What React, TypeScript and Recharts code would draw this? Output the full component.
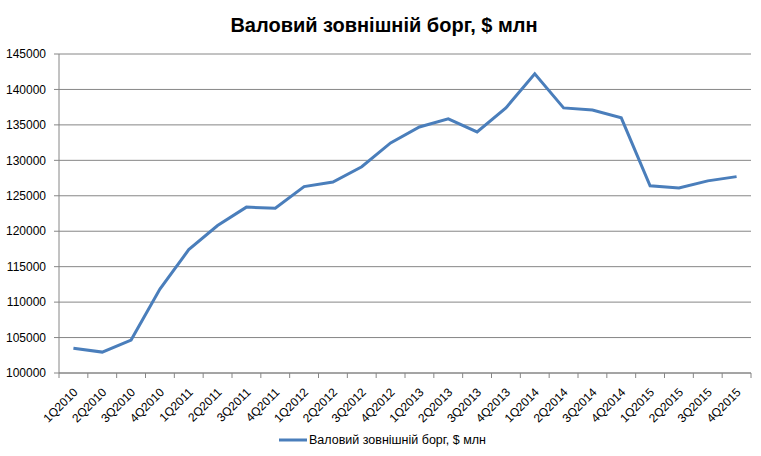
import React from 'react';
import { LineChart, Line, XAxis, YAxis, CartesianGrid, Legend } from 'recharts';

const quarters = [
  '1Q2010', '2Q2010', '3Q2010', '4Q2010',
  '1Q2011', '2Q2011', '3Q2011', '4Q2011',
  '1Q2012', '2Q2012', '3Q2012', '4Q2012',
  '1Q2013', '2Q2013', '3Q2013', '4Q2013',
  '1Q2014', '2Q2014', '3Q2014', '4Q2014',
  '1Q2015', '2Q2015', '3Q2015', '4Q2015',
];

const grossDebt = [
  103500, 102950, 104650, 111850,
  117400, 120800, 123400, 123250,
  126300, 126950, 129100, 132450,
  134700, 135850, 134000, 137400,
  142200, 137400, 137100, 136000,
  126400, 126100, 127100, 127700,
];

const yTicks = [100000, 105000, 110000, 115000, 120000, 125000, 130000, 135000, 140000, 145000];

const SERIES_NAME = 'Валовий зовнішній борг, $ млн';
const TITLE = 'Валовий зовнішній борг, $ млн';

const data = quarters.map((q, i) => ({ quarter: q, debt: grossDebt[i] }));

const WIDTH = 761;
const HEIGHT = 456;
const MARGIN = { top: 54, right: 10, left: 0, bottom: 6 };
const Y_AXIS_WIDTH = 59;
const STEP = (WIDTH - MARGIN.right - MARGIN.left - Y_AXIS_WIDTH) / quarters.length;
const AXIS_COLOR = '#868686';
const LINE_COLOR = '#4A7EBB';
const FONT = '"Liberation Sans", Arial, sans-serif';

function QuarterTick(props: any) {
  const { x, y, payload, index } = props;
  const last = index === quarters.length - 1;
  const tx = x + 5;
  const ty = y + 20;
  return (
    <g>
      <line x1={x - STEP / 2} y1={y} x2={x - STEP / 2} y2={y + 5} stroke={AXIS_COLOR} />
      {last && <line x1={x + STEP / 2} y1={y} x2={x + STEP / 2} y2={y + 5} stroke={AXIS_COLOR} />}
      <text
        x={tx}
        y={ty}
        transform={`rotate(-45, ${tx}, ${ty})`}
        textAnchor="end"
        fontSize={12}
        fontFamily={FONT}
        fill="#000"
      >
        {payload.value}
      </text>
    </g>
  );
}

function LegendContent() {
  return (
    <div style={{ height: 20, paddingLeft: 14, display: 'flex', justifyContent: 'center', alignItems: 'center', fontFamily: FONT, fontSize: 12.5, color: '#000' }}>
      <svg width={28} height={6} style={{ marginRight: 2 }}>
        <line x1={0} y1={3} x2={28} y2={3} stroke={LINE_COLOR} strokeWidth={3} />
      </svg>
      <span>{SERIES_NAME}</span>
    </div>
  );
}

export default function App() {
  return (
    <div style={{ position: 'absolute', left: 0, top: 0, width: WIDTH, height: HEIGHT, background: '#fff' }}>
      <div
        style={{
          position: 'absolute',
          top: 12,
          left: 0,
          width: 768,
          textAlign: 'center',
          fontFamily: FONT,
          fontWeight: 'bold',
          fontSize: 20,
          lineHeight: '26px',
          color: '#000',
        }}
      >
        {TITLE}
      </div>
      <LineChart width={WIDTH} height={HEIGHT} data={data} margin={MARGIN}>
        <CartesianGrid vertical={false} stroke={AXIS_COLOR} strokeWidth={1} />
        <XAxis
          dataKey="quarter"
          interval={0}
          height={57}
          padding={{ left: STEP / 2, right: STEP / 2 }}
          tickLine={false}
          tickSize={0}
          tickMargin={0}
          stroke={AXIS_COLOR}
          tick={<QuarterTick />}
        />
        <YAxis
          width={Y_AXIS_WIDTH}
          domain={[100000, 145000]}
          ticks={yTicks}
          interval={0}
          tickSize={5}
          tickMargin={8}
          stroke={AXIS_COLOR}
          tick={{ fontSize: 12, fill: '#000', fontFamily: FONT }}
        />
        <Legend verticalAlign="bottom" content={<LegendContent />} />
        <Line
          type="linear"
          dataKey="debt"
          name={SERIES_NAME}
          stroke={LINE_COLOR}
          strokeWidth={3}
          dot={false}
          isAnimationActive={false}
        />
      </LineChart>
    </div>
  );
}
